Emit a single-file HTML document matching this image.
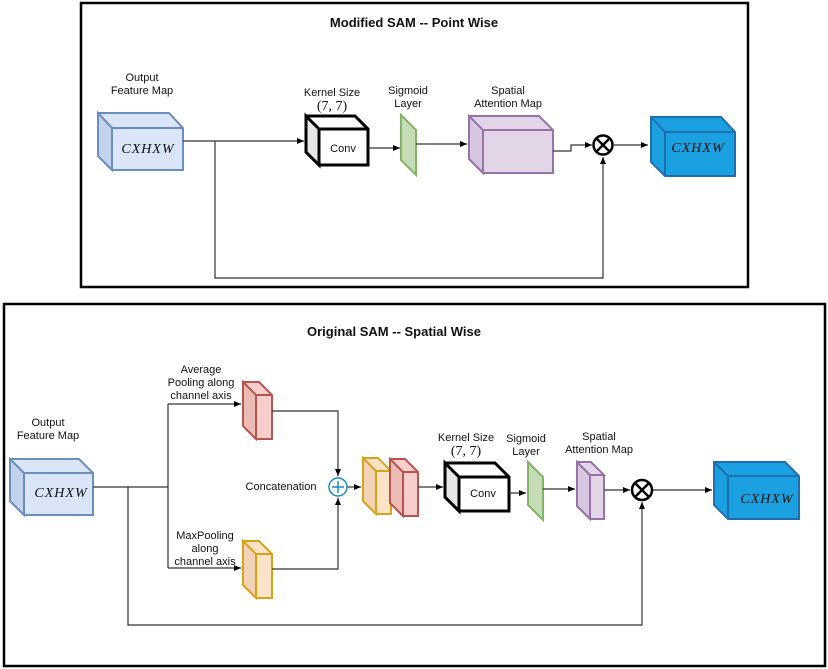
<!DOCTYPE html>
<html><head><meta charset="utf-8"><style>body{margin:0;background:#fff}svg{display:block}text{font-family:"Liberation Sans",sans-serif;font-size:11px;fill:#111;text-anchor:middle}.m{font-family:"Liberation Serif",serif;font-style:italic;font-size:14px;letter-spacing:1px}.p{font-family:"Liberation Serif",serif;font-size:14px}.t{font-weight:bold;font-size:13px}</style></head><body>
<svg width="828" height="669" viewBox="0 0 828 669" xmlns="http://www.w3.org/2000/svg">
<defs><marker id="a" markerWidth="8" markerHeight="8" refX="7" refY="4" orient="auto" markerUnits="userSpaceOnUse"><path d="M0,1 L7,4 L0,7 z" fill="#000"/></marker></defs>
<rect x="81" y="3" width="667" height="284" fill="none" stroke="#000" stroke-width="2.5"/>
<rect x="4" y="304" width="821" height="362" fill="none" stroke="#000" stroke-width="2.5"/>
<text x="414" y="27" class="t">Modified SAM -- Point Wise</text>
<text x="394" y="336" class="t">Original SAM -- Spatial Wise</text>
<g id="cubes" stroke-width="2">
<!-- top blue -->
<path d="M98,113 L169,113 L183,128 L183,170 L112,170 L98,156 Z" fill="#dae6f8" stroke="#6c8ebf"/><path d="M98,113 L112,128 L183,128 M112,128 L112,170" fill="none" stroke="#6c8ebf"/><path d="M98,113 L112,128 L112,170 L98,156Z" fill="#c3d3ee" stroke="#6c8ebf"/>
<!-- conv top -->
<path d="M306,116 L355,116 L368,129 L368,165 L319,165 L306,152 Z" fill="#fff" stroke="#000" stroke-width="3"/><path d="M306,116 L319,129 L319,165 L306,152Z" fill="#e6e6e6" stroke="#000" stroke-width="3"/><path d="M319,129 L368,129" stroke="#000" stroke-width="3"/>
<!-- sigmoid top -->
<path d="M401,115 L416,130 L416,175 L401,160Z" fill="#c5dcb6" stroke="#82b366"/>
<!-- SAM top -->
<path d="M469,116 L539,116 L553,130 L553,173 L483,173 L469,159Z" fill="#e1d5e7" stroke="#9673a6"/><path d="M469,116 L483,130 L483,173 L469,159Z" fill="#d6c6e0" stroke="#9673a6"/><path d="M483,130 L553,130" stroke="#9673a6"/>
<!-- output top -->
<path d="M651,117 L721,117 L735,132 L735,176 L665,176 L651,162Z" fill="#1ba1e2" stroke="#1f6fae"/><path d="M651,117 L665,132 L665,176 M665,132 L735,132" fill="none" stroke="#1f6fae"/>
<!-- bottom blue -->
<path d="M10,459 L79,459 L93,473 L93,515 L24,515 L10,501Z" fill="#dae6f8" stroke="#6c8ebf"/><path d="M10,459 L24,473 L24,515 L10,501Z" fill="#c3d3ee" stroke="#6c8ebf"/><path d="M24,473 L93,473" stroke="#6c8ebf"/>
<!-- red avg -->
<path d="M243,382 L259,382 L272,395 L272,439 L256,439 L243,426Z" fill="#f8cecc" stroke="#b85450"/><path d="M243,382 L256,395 L256,439 L243,426Z" fill="#ebbcb6" stroke="#b85450"/><path d="M256,395 L272,395" stroke="#b85450"/>
<!-- yellow max -->
<path d="M243,541 L259,541 L272,554 L272,598 L256,598 L243,585Z" fill="#fbe3c8" stroke="#d6a21a"/><path d="M243,541 L256,554 L256,598 L243,585Z" fill="#f2d3b8" stroke="#d6a21a"/><path d="M256,554 L272,554" stroke="#d6a21a"/>
<!-- concat yellow -->
<path d="M363,458 L378,458 L391,471 L391,514 L376,514 L363,501Z" fill="#fbe3c8" stroke="#d6a21a"/><path d="M363,458 L376,471 L376,514 L363,501Z" fill="#f2d3b8" stroke="#d6a21a"/><path d="M376,471 L391,471" stroke="#d6a21a"/>
<!-- concat red -->
<path d="M390,459 L405,459 L418,472 L418,516 L403,516 L390,503Z" fill="#f8cecc" stroke="#b85450"/><path d="M390,459 L403,472 L403,516 L390,503Z" fill="#ebbcb6" stroke="#b85450"/><path d="M403,472 L418,472" stroke="#b85450"/>
<!-- conv bottom -->
<path d="M445,463 L495,463 L509,477 L509,511 L459,511 L445,497Z" fill="#fff" stroke="#000" stroke-width="3"/><path d="M445,463 L459,477 L459,511 L445,497Z" fill="#e6e6e6" stroke="#000" stroke-width="3"/><path d="M459,477 L509,477" stroke="#000" stroke-width="3"/>
<!-- sigmoid bottom -->
<path d="M528,462 L543,477 L543,520 L528,505Z" fill="#c5dcb6" stroke="#82b366"/>
<!-- SAM bottom -->
<path d="M577,462 L591,462 L604,475 L604,519 L590,519 L577,506Z" fill="#e1d5e7" stroke="#9673a6"/><path d="M577,462 L590,475 L590,519 L577,506Z" fill="#d6c6e0" stroke="#9673a6"/><path d="M590,475 L604,475" stroke="#9673a6"/>
<!-- output bottom -->
<path d="M714,462 L785,462 L799,476 L799,519 L728,519 L714,505Z" fill="#1ba1e2" stroke="#1f6fae"/><path d="M714,462 L728,476 L728,519 M728,476 L799,476" fill="none" stroke="#1f6fae"/>
</g>
<g fill="none" stroke="#333" stroke-width="1.2">
<path d="M183,141 L304,141" marker-end="url(#a)"/>
<path d="M215,141 L215,278 L603,278 L603,157" marker-end="url(#a)"/>
<path d="M368,148 L400,148" marker-end="url(#a)"/>
<path d="M416,144 L467,144" marker-end="url(#a)"/>
<path d="M553,151 L571,151 L571,145 L592,145" marker-end="url(#a)"/>
<path d="M614,145 L648,145" marker-end="url(#a)"/>
<path d="M93,487 L168,487"/>
<path d="M168,404 L168,568"/>
<path d="M168,404 L241,404" marker-end="url(#a)"/>
<path d="M168,568 L241,568" marker-end="url(#a)"/>
<path d="M128,487 L128,625 L642,625 L642,502" marker-end="url(#a)"/>
<path d="M272,411 L338,411 L338,476" marker-end="url(#a)"/>
<path d="M272,569 L338,569 L338,498" marker-end="url(#a)"/>
<path d="M347,487 L361,487" marker-end="url(#a)"/>
<path d="M418,487 L443,487" marker-end="url(#a)"/>
<path d="M509,493 L526,493" marker-end="url(#a)"/>
<path d="M543,489 L575,489" marker-end="url(#a)"/>
<path d="M604,490 L630,490" marker-end="url(#a)"/>
<path d="M653,490 L712,490" marker-end="url(#a)"/>
</g>
<circle cx="603" cy="145" r="9.5" fill="#fff" stroke="#000" stroke-width="2.5"/><path d="M596.5,138.5 L609.5,151.5 M609.5,138.5 L596.5,151.5" stroke="#000" stroke-width="2.5"/>
<circle cx="642" cy="490" r="10" fill="#fff" stroke="#000" stroke-width="2.5"/><path d="M635,483 L649,497 M649,483 L635,497" stroke="#000" stroke-width="2.5"/>
<circle cx="338" cy="487" r="9" fill="#fff" stroke="#1a88c9" stroke-width="1.5"/><path d="M332,487 L344,487 M338,481 L338,493" stroke="#1a88c9" stroke-width="1.5"/>
<text x="142" y="81">Output</text><text x="142" y="94">Feature Map</text>
<text x="148" y="153" class="m">CXHXW</text>
<text x="332" y="96">Kernel Size</text><text x="332" y="110" class="p">(7, 7)</text>
<text x="343" y="152">Conv</text>
<text x="408" y="94">Sigmoid</text><text x="408" y="107">Layer</text>
<text x="508" y="94">Spatial</text><text x="508" y="107">Attention Map</text>
<text x="698" y="152" class="m" fill="#0a3a6e">CXHXW</text>
<text x="48" y="426">Output</text><text x="48" y="439">Feature Map</text>
<text x="61" y="497" class="m">CXHXW</text>
<text x="201" y="373">Average</text><text x="201" y="386">Pooling along</text><text x="201" y="399">channel axis</text>
<text x="205" y="539">MaxPooling</text><text x="205" y="552">along</text><text x="205" y="565">channel axis</text>
<text x="281" y="490">Concatenation</text>
<text x="466" y="441">Kernel Size</text><text x="466" y="455" class="p">(7, 7)</text>
<text x="483" y="497">Conv</text>
<text x="526" y="442">Sigmoid</text><text x="526" y="455">Layer</text>
<text x="599" y="440">Spatial</text><text x="599" y="453">Attention Map</text>
<text x="767" y="503" class="m" fill="#0a3a6e">CXHXW</text>
</svg>
</body></html>
